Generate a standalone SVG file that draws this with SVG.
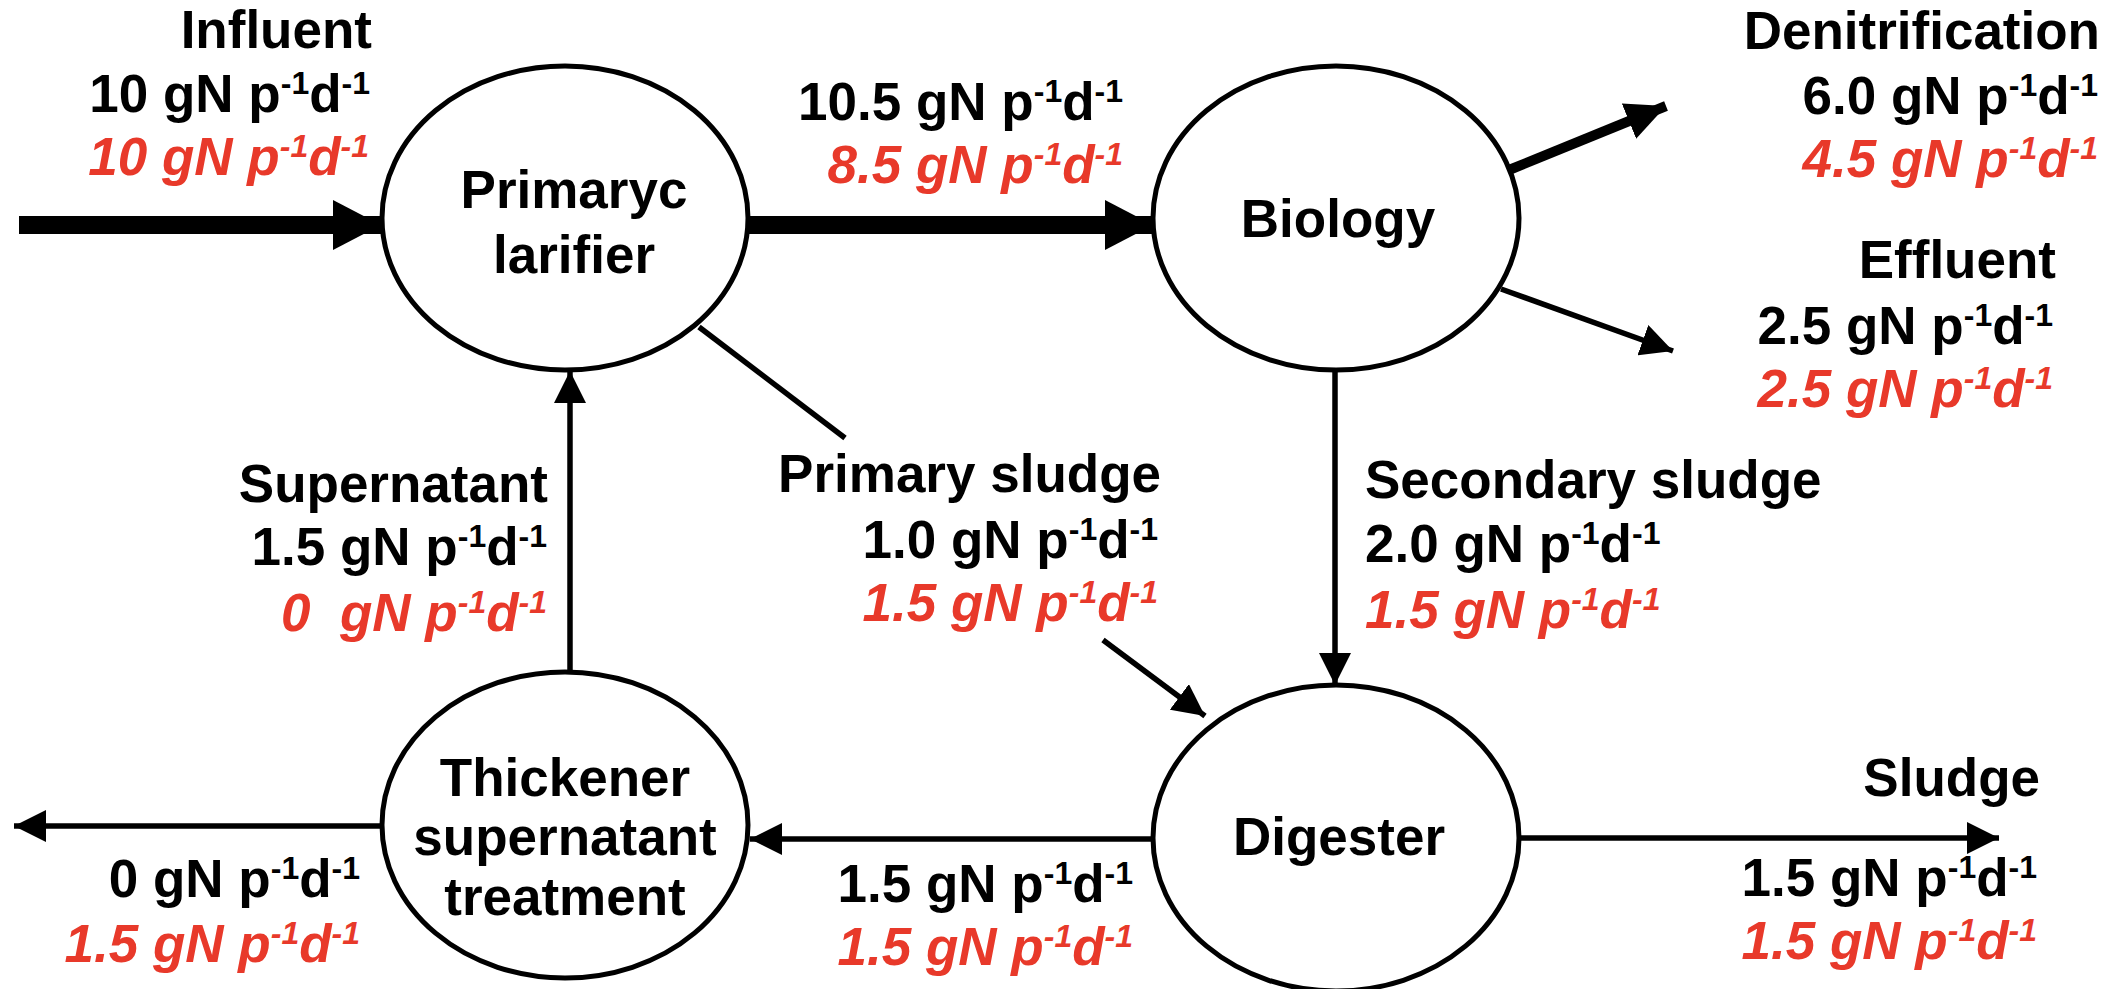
<svg xmlns="http://www.w3.org/2000/svg" width="2121" height="989" viewBox="0 0 2121 989">
<defs>
<style>
text{font-family:"Liberation Sans",Arial,sans-serif;font-weight:bold;font-size:53px;fill:#000}
.r{fill:#e8392a;font-style:italic}
.e{text-anchor:end}
.m{text-anchor:middle}
.s{font-size:32px}
.node{fill:#fff;stroke:#000;stroke-width:5}
.c{stroke:#000;fill:none}
.thick{stroke-width:18}
.mid{stroke-width:10}
.thin{stroke-width:5.5}
</style>
<marker id="hThick" markerUnits="userSpaceOnUse" viewBox="0 0 48 50" refX="48" refY="25" markerWidth="48" markerHeight="50" orient="auto"><path d="M0,0 L48,25 L0,50 Z" fill="#000"/></marker>
<marker id="hMid" markerUnits="userSpaceOnUse" viewBox="0 0 40 38" refX="40" refY="19" markerWidth="40" markerHeight="38" orient="auto"><path d="M0,0 L40,19 L0,38 Z" fill="#000"/></marker>
<marker id="hThin" markerUnits="userSpaceOnUse" viewBox="0 0 32 32" refX="32" refY="16" markerWidth="32" markerHeight="32" orient="auto"><path d="M0,0 L32,16 L0,32 Z" fill="#000"/></marker>
</defs>
<rect width="2121" height="989" fill="#fff"/>

<g id="connectors">
<line class="c thick" x1="19" y1="225" x2="381" y2="225" marker-end="url(#hThick)"/>
<line class="c thick" x1="748" y1="225" x2="1153" y2="225" marker-end="url(#hThick)"/>
<line class="c mid" x1="1509" y1="170" x2="1666" y2="106" marker-end="url(#hMid)"/>
<line class="c thin" x1="1501" y1="289" x2="1673" y2="351" marker-end="url(#hThin)"/>
<line class="c thin" x1="1335" y1="371" x2="1335" y2="685" marker-end="url(#hThin)"/>
<line class="c thin" x1="699" y1="327" x2="845" y2="438"/>
<line class="c thin" x1="1103" y1="640" x2="1205" y2="716" marker-end="url(#hThin)"/>
<line class="c thin" x1="570" y1="672" x2="570" y2="371" marker-end="url(#hThin)"/>
<line class="c thin" x1="1153" y1="839" x2="750" y2="839" marker-end="url(#hThin)"/>
<line class="c thin" x1="382" y1="826" x2="14" y2="826" marker-end="url(#hThin)"/>
<line class="c thin" x1="1519" y1="838" x2="1999" y2="838" marker-end="url(#hThin)"/>
</g>

<g id="primary-clarifier">
<ellipse class="node" cx="565" cy="218" rx="183" ry="152"/>
<text class="m" x="574" y="208">Primaryc</text>
<text class="m" x="574" y="273">larifier</text>
</g>
<g id="biology">
<ellipse class="node" cx="1336" cy="218" rx="183" ry="152"/>
<text class="m" x="1338" y="237">Biology</text>
</g>
<g id="thickener">
<ellipse class="node" cx="565" cy="825" rx="183" ry="153"/>
<text class="m" x="565" y="796">Thickener</text>
<text class="m" x="565" y="855">supernatant</text>
<text class="m" x="565" y="915">treatment</text>
</g>
<g id="digester">
<ellipse class="node" cx="1336" cy="838" rx="183" ry="153"/>
<text class="m" x="1339" y="855">Digester</text>
</g>

<g id="labels">
<text class="e" x="372" y="48">Influent</text>
<text class="e" x="370" y="112">10 gN p<tspan class="s" dy="-18">-1</tspan><tspan dy="18">d</tspan><tspan class="s" dy="-18">-1</tspan></text>
<text class="e r" x="369" y="175">10 gN p<tspan class="s" dy="-18">-1</tspan><tspan dy="18">d</tspan><tspan class="s" dy="-18">-1</tspan></text>

<text class="e" x="1123" y="120">10.5 gN p<tspan class="s" dy="-18">-1</tspan><tspan dy="18">d</tspan><tspan class="s" dy="-18">-1</tspan></text>
<text class="e r" x="1123" y="183">8.5 gN p<tspan class="s" dy="-18">-1</tspan><tspan dy="18">d</tspan><tspan class="s" dy="-18">-1</tspan></text>

<text class="e" x="2100" y="49">Denitrification</text>
<text class="e" x="2098" y="114">6.0 gN p<tspan class="s" dy="-18">-1</tspan><tspan dy="18">d</tspan><tspan class="s" dy="-18">-1</tspan></text>
<text class="e r" x="2098" y="177">4.5 gN p<tspan class="s" dy="-18">-1</tspan><tspan dy="18">d</tspan><tspan class="s" dy="-18">-1</tspan></text>

<text class="e" x="2056" y="278">Effluent</text>
<text class="e" x="2053" y="344">2.5 gN p<tspan class="s" dy="-18">-1</tspan><tspan dy="18">d</tspan><tspan class="s" dy="-18">-1</tspan></text>
<text class="e r" x="2053" y="407">2.5 gN p<tspan class="s" dy="-18">-1</tspan><tspan dy="18">d</tspan><tspan class="s" dy="-18">-1</tspan></text>

<text class="e" x="548" y="502">Supernatant</text>
<text class="e" x="547" y="565">1.5 gN p<tspan class="s" dy="-18">-1</tspan><tspan dy="18">d</tspan><tspan class="s" dy="-18">-1</tspan></text>
<text class="e r" x="547" y="631" xml:space="preserve">0  gN p<tspan class="s" dy="-18">-1</tspan><tspan dy="18">d</tspan><tspan class="s" dy="-18">-1</tspan></text>

<text class="e" x="1161" y="492">Primary sludge</text>
<text class="e" x="1158" y="558">1.0 gN p<tspan class="s" dy="-18">-1</tspan><tspan dy="18">d</tspan><tspan class="s" dy="-18">-1</tspan></text>
<text class="e r" x="1158" y="621">1.5 gN p<tspan class="s" dy="-18">-1</tspan><tspan dy="18">d</tspan><tspan class="s" dy="-18">-1</tspan></text>

<text x="1365" y="498">Secondary sludge</text>
<text x="1365" y="562">2.0 gN p<tspan class="s" dy="-18">-1</tspan><tspan dy="18">d</tspan><tspan class="s" dy="-18">-1</tspan></text>
<text class="r" x="1365" y="628">1.5 gN p<tspan class="s" dy="-18">-1</tspan><tspan dy="18">d</tspan><tspan class="s" dy="-18">-1</tspan></text>

<text class="e" x="360" y="897">0 gN p<tspan class="s" dy="-18">-1</tspan><tspan dy="18">d</tspan><tspan class="s" dy="-18">-1</tspan></text>
<text class="e r" x="360" y="962">1.5 gN p<tspan class="s" dy="-18">-1</tspan><tspan dy="18">d</tspan><tspan class="s" dy="-18">-1</tspan></text>

<text class="e" x="1133" y="902">1.5 gN p<tspan class="s" dy="-18">-1</tspan><tspan dy="18">d</tspan><tspan class="s" dy="-18">-1</tspan></text>
<text class="e r" x="1133" y="965">1.5 gN p<tspan class="s" dy="-18">-1</tspan><tspan dy="18">d</tspan><tspan class="s" dy="-18">-1</tspan></text>

<text class="e" x="2040" y="796">Sludge</text>
<text class="e" x="2037" y="896">1.5 gN p<tspan class="s" dy="-18">-1</tspan><tspan dy="18">d</tspan><tspan class="s" dy="-18">-1</tspan></text>
<text class="e r" x="2037" y="959">1.5 gN p<tspan class="s" dy="-18">-1</tspan><tspan dy="18">d</tspan><tspan class="s" dy="-18">-1</tspan></text>
</g>
</svg>
